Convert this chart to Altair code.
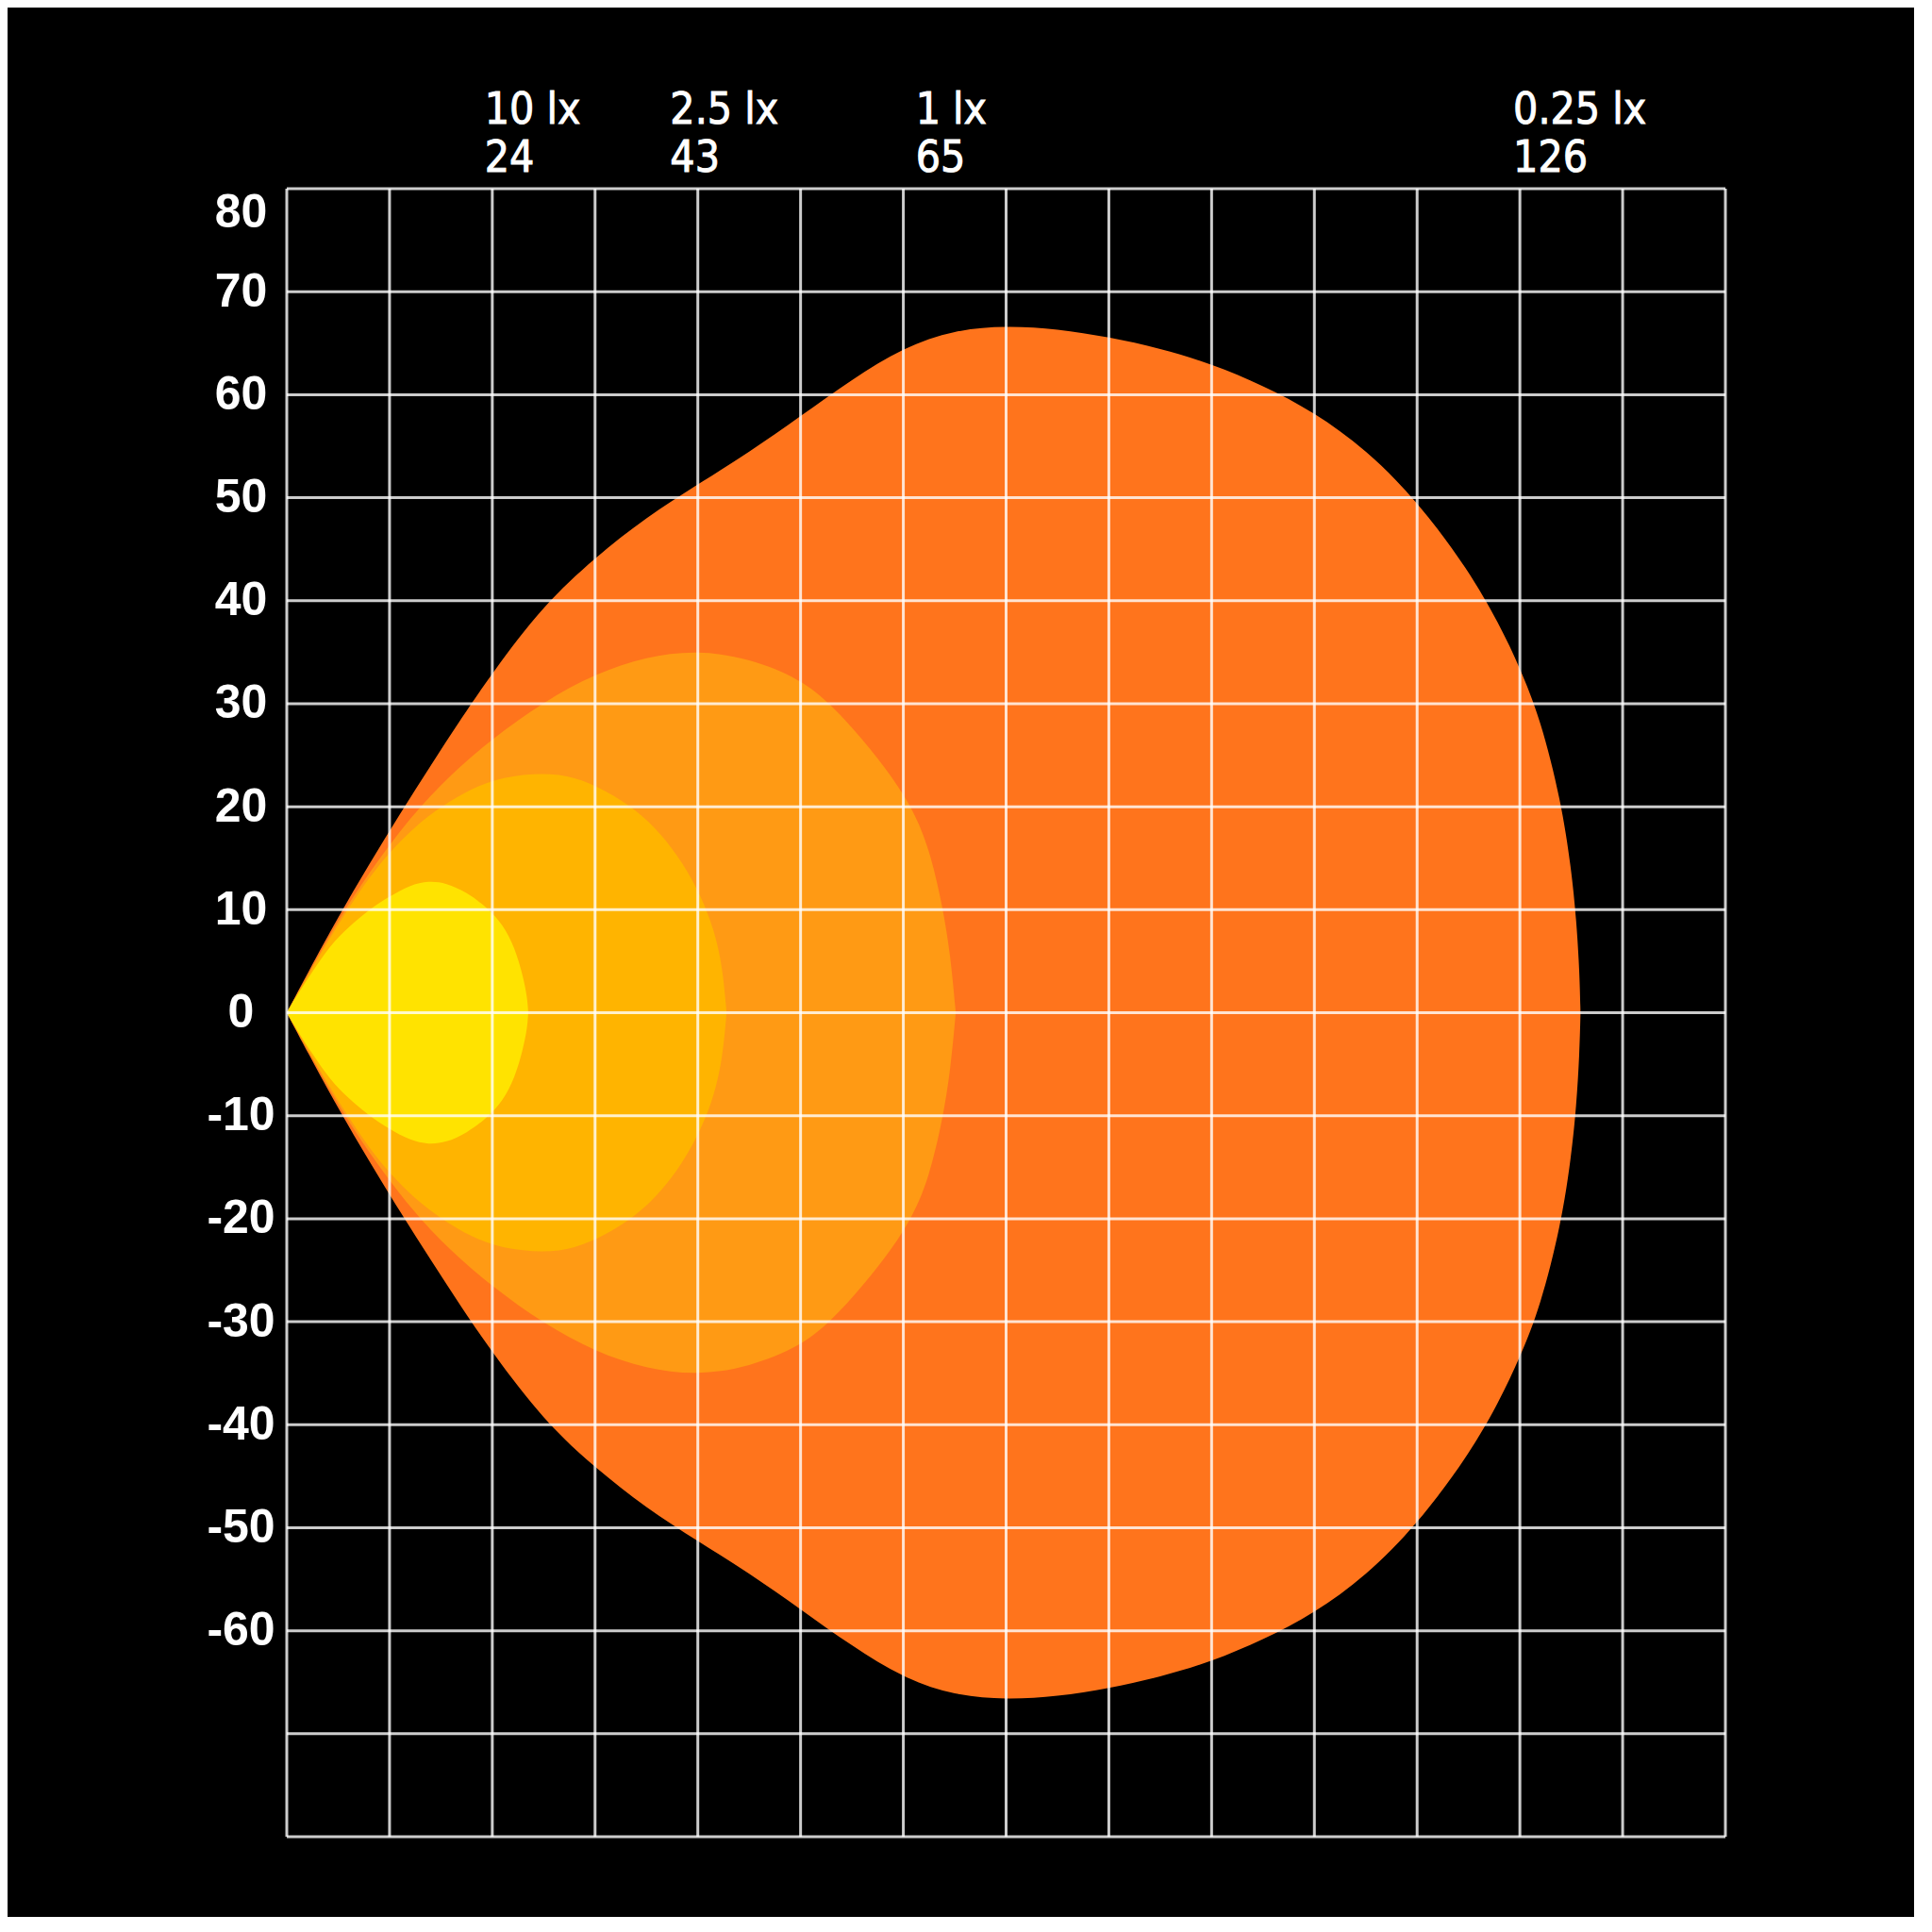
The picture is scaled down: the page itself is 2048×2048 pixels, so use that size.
import altair as alt
import pandas as pd

# ---- beam contours: distance along beam (m) vs half-width (m) ----
# 0.25 lx (outermost)
outer_x = [0, 2, 5, 8, 11, 14, 17, 20, 25, 30, 35, 40, 45, 50, 55, 60, 65, 70, 75, 80, 85,
           90, 95, 100, 105, 110, 115, 118, 120, 122, 124, 125, 125.5, 125.8, 125.9]
outer_y = [0, 3.8, 9.3, 14.4, 19.3, 24.0, 28.6, 33.0, 39.6, 44.2, 48.1, 51.3, 54.4, 57.9,
           61.5, 64.6, 66.3, 66.7, 66.4, 65.6, 64.5, 63.0, 60.9, 58.3, 54.7, 49.7, 43.0,
           37.7, 33.5, 28.5, 20.6, 14.0, 9.0, 4.0, 0]

# 1 lx
lux1_x = [0, 2, 5, 8, 12, 16, 20, 25, 30, 35, 40, 45, 50, 53, 56, 59, 61, 62.5, 63.8, 64.6,
          65.1]
lux1_y = [0, 3.6, 9.0, 13.6, 19.0, 23.2, 26.6, 30.2, 32.9, 34.6, 35.2, 34.4, 32.4, 29.9,
          26.6, 22.8, 19.6, 16.0, 10.5, 5.5, 0]

# 2.5 lx
lux25_x = [0, 2, 3.6, 5.7, 8, 10, 12.5, 15, 18, 21, 25, 28, 31, 34, 36.5, 38.5, 40.3, 41.6,
           42.4, 42.8]
lux25_y = [0, 3.5, 6.2, 9.7, 13.1, 15.6, 18.1, 20.0, 21.8, 22.9, 23.3, 22.9, 21.6, 19.7,
           17.3, 14.6, 11.4, 8.0, 4.5, 0]

# 10 lx
lux10_x = [0, 1, 2.5, 4.2, 6, 8, 10, 12, 13.8, 15.5, 17.5, 19.5, 21, 22.2, 23, 23.4, 23.5]
lux10_y = [0, 1.7, 4.0, 6.5, 8.3, 10.0, 11.3, 12.4, 12.8, 12.6, 11.7, 10.2, 8.6, 6.3, 3.5,
           1.5, 0]

# top annotations
label_lux = ["10 lx", "2.5 lx", "1 lx", "0.25 lx"]
label_dist = [24, 43, 65, 126]

# grid / tick positions
x_ticks = list(range(0, 141, 10))
y_ticks = list(range(-80, 81, 10))

COL_OUTER = "#FF741C"
COL_1 = "#FF9A14"
COL_25 = "#FFB400"
COL_10 = "#FFE300"
GRID = "#ffffff"

x_scale = alt.Scale(domain=[0, 140], nice=False, zero=False)
y_scale = alt.Scale(domain=[-80, 80], nice=False, zero=False)

y_axis = alt.Axis(
    values=y_ticks,
    grid=False,
    domain=False,
    ticks=False,
    tickSize=0,
    title=None,
    labelExpr="datum.value < -60 ? '' : toString(datum.value)",
    labelFont="Liberation Sans",
    labelFontWeight="bold",
    labelFontSize=50,
    labelColor="#ffffff",
    labelAlign="center",
    labelPadding=49,
    labelFlush=True,
    labelOverlap=False,
)


def beam(xs, ys, color):
    df = pd.DataFrame({"x": xs, "half": ys})
    return (
        alt.Chart(df)
        .transform_calculate(neg="-datum.half")
        .mark_area(color=color, opacity=1, interpolate="basis")
        .encode(
            x=alt.X("x:Q", scale=x_scale, axis=None),
            y=alt.Y("half:Q", scale=y_scale, axis=y_axis),
            y2="neg:Q",
        )
    )


layers = [
    beam(outer_x, outer_y, COL_OUTER),
    beam(lux1_x, lux1_y, COL_1),
    beam(lux25_x, lux25_y, COL_25),
    beam(lux10_x, lux10_y, COL_10),
]

vgrid = (
    alt.Chart(pd.DataFrame({"v": x_ticks}))
    .mark_rule(color=GRID, opacity=0.8, strokeWidth=3)
    .encode(x=alt.X("v:Q", scale=x_scale, axis=None))
)
hgrid = (
    alt.Chart(pd.DataFrame({"v": y_ticks}))
    .mark_rule(color=GRID, opacity=0.8, strokeWidth=3)
    .encode(y=alt.Y("v:Q", scale=y_scale, axis=y_axis))
)

labels = (
    alt.Chart(pd.DataFrame({"lux": label_lux, "dist": label_dist}))
    .transform_calculate(
        lx="datum.dist - length(datum.lux) * 0.95",
        txt="datum.lux + '\\n' + datum.dist",
    )
    .mark_text(
        align="left",
        baseline="top",
        font="DejaVu Sans Condensed, Liberation Sans Narrow, Roboto Condensed, DejaVu Sans",
        fontSize=46,
        lineHeight=51,
        lineBreak="\n",
        color="#ffffff",
        stroke="#ffffff",
        strokeWidth=0.9,
    )
    .encode(
        x=alt.X("lx:Q", scale=x_scale, axis=None),
        y=alt.value(-105),
        text="txt:N",
    )
)

chart = (
    alt.layer(*layers, vgrid, hgrid, labels)
    .properties(
        width=1525,
        height=1747,
        background="#000000",
        padding={"left": 296, "top": 192, "right": 200, "bottom": 85},
        autosize=alt.AutoSizeParams(type="none"),
    )
    .configure_view(stroke=None)
)

chart.save("out.html", embed_options={"renderer": "svg", "actions": False})
